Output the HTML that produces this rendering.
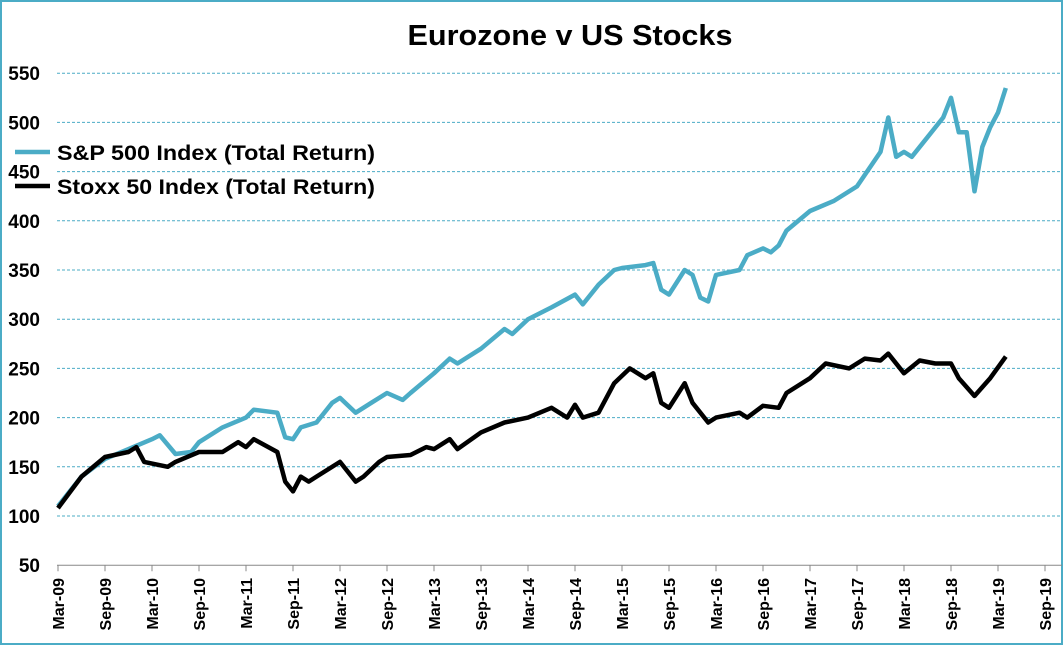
<!DOCTYPE html>
<html><head><meta charset="utf-8"><style>
body{margin:0;background:#fff;}
svg{display:block;font-family:"Liberation Sans",sans-serif;}
</style></head><body>
<svg id="c" width="1063" height="646">
<rect x="1" y="1" width="1061" height="643" fill="#fff" stroke="#4bacc6" stroke-width="2"/>
<text x="570" y="45" text-anchor="middle" font-size="29" font-weight="bold" fill="#000" textLength="325" lengthAdjust="spacingAndGlyphs">Eurozone v US Stocks</text>
<g id="grid"></g><g id="axes"></g><g id="series"></g>
<g>
<line x1="15" y1="152" x2="50" y2="152" stroke="#4bacc6" stroke-width="4.5"/>
<text x="57" y="160" font-size="21" font-weight="bold" textLength="318" lengthAdjust="spacingAndGlyphs">S&amp;P 500 Index (Total Return)</text>
<line x1="15" y1="186" x2="50" y2="186" stroke="#000" stroke-width="4.5"/>
<text x="57" y="194" font-size="21" font-weight="bold" textLength="318" lengthAdjust="spacingAndGlyphs">Stoxx 50 Index (Total Return)</text>
</g>
</svg>
<script>
const yTicks=[50,100,150,200,250,300,350,400,450,500,550];
const xTickLabels=["Mar-09","Sep-09","Mar-10","Sep-10","Mar-11","Sep-11","Mar-12","Sep-12","Mar-13","Sep-13","Mar-14","Sep-14","Mar-15","Sep-15","Mar-16","Sep-16","Mar-17","Sep-17","Mar-18","Sep-18","Mar-19","Sep-19"];
// month index from Mar-09
const spMonths=[0,3,6,9,12,13,15,17,18,21,24,25,28,29,30,31,33,35,36,38,40,42,44,45,48,50,51,54,57,58,60,63,66,67,69,71,72,75,76,77,78,80,81,82,83,84,87,88,90,91,92,93,96,99,102,105,106,107,108,109,111,113,114,115,116,117,118,119,120,121];
const spValues=[110,140,158,168,178,182,163,165,175,190,200,208,205,180,178,190,195,215,220,205,215,225,218,225,245,260,255,270,290,285,300,312,325,315,335,350,352,355,357,330,325,350,345,322,318,345,350,365,372,368,375,390,410,420,435,470,505,465,470,465,485,505,525,490,490,430,475,495,510,535];
const stMonths=[0,3,6,9,10,11,14,15,18,21,23,24,25,28,29,30,31,32,33,36,38,39,41,42,45,47,48,50,51,54,57,60,63,65,66,67,69,71,73,75,76,77,78,80,81,83,84,87,88,90,92,93,96,98,101,103,105,106,108,110,112,114,115,117,119,121];
const stValues=[108,140,160,165,170,155,150,155,165,165,175,170,178,165,135,125,140,135,140,155,135,140,155,160,162,170,168,178,168,185,195,200,210,200,213,200,205,235,250,240,245,215,210,235,215,195,200,205,200,212,210,225,240,255,250,260,258,265,245,258,255,255,240,222,240,262];
const NS="http://www.w3.org/2000/svg";
const X0=58,XS=47/6,Y100=516,YS=49.2/50;
const xs=m=>X0+m*XS, ys=v=>Y100-(v-100)*YS;
function mk(t,a,p){const e=document.createElementNS(NS,t);for(const k in a)e.setAttribute(k,a[k]);p.appendChild(e);return e;}
const grid=document.getElementById('grid'),axes=document.getElementById('axes'),ser=document.getElementById('series');
yTicks.forEach(v=>{
  if(v>50){const l=mk('line',{x1:57,x2:1062,y1:ys(v),y2:ys(v),stroke:'#4bacc6','stroke-width':1,'stroke-dasharray':'3,2'},grid);
  
  }
  const t=mk('text',{x:40,y:ys(v)+7,'text-anchor':'end','font-size':19,'font-weight':'bold'},axes);t.textContent=v;
  
  
});
const ax=mk('line',{x1:57,x2:1062,y1:ys(50),y2:ys(50),stroke:'#888','stroke-width':1},axes);


xTickLabels.forEach((s,i)=>{
  const x=xs(i*6);
  const tk=mk('line',{x1:x,x2:x,y1:ys(50),y2:ys(50)+6,stroke:'#888'},axes);
  
  
  const t=mk('text',{x:0,y:0,'text-anchor':'end','font-size':16,'font-weight':'bold',transform:`translate(${x+6},578) rotate(-90)`},axes);
  t.textContent=s;
  
  
});
function line(ms,vs,col,name){
  const d=ms.map((m,i)=>(i?'L':'M')+xs(m).toFixed(1)+','+ys(vs[i]).toFixed(1)).join('');
  const p=mk('path',{d:d,fill:'none',stroke:col,'stroke-width':4.5,'stroke-linejoin':'round'},ser);
  
  
}
line(spMonths,spValues,'#4bacc6','sp500-line');
line(stMonths,stValues,'#000','stoxx50-line');
</script>
</body></html>
